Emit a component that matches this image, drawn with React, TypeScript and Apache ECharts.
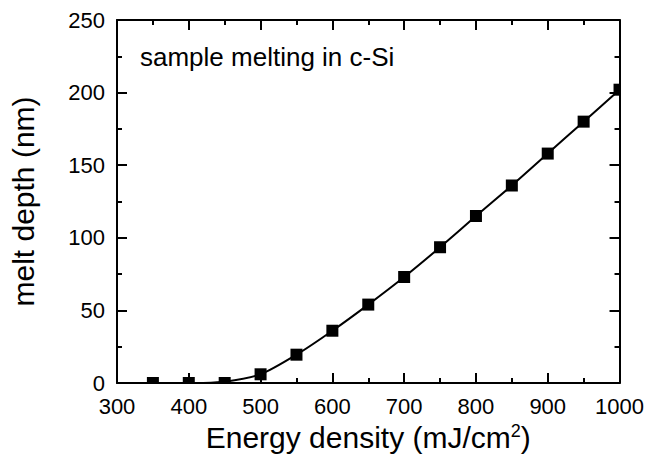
import React, { useEffect, useRef } from "react";
import * as echarts from "echarts";

const energy = [350, 400, 450, 500, 550, 600, 650, 700, 750, 800, 850, 900, 950, 1000];
const meltDepth = [0, 0, 0, 6, 19.5, 36, 54, 73, 93.5, 115, 136, 158, 180, 202];
const fitEnergy = [420, 450, 500, 550, 600, 650, 700, 750, 800, 850, 900, 950, 1000];
const fitDepth = [0, 0.8, 6, 19.5, 36, 54, 73, 93.5, 115, 136, 158, 180, 202];
const xRange = [300, 1000];
const xStep = 100;
const yRange = [0, 250];
const yStep = 50;
const annotation = "sample melting in c-Si";
const xTitle = "Energy density (mJ/cm{sup|2})";
const yTitle = "melt depth (nm)";

const FONT = "'Liberation Sans', Arial, Helvetica, sans-serif";
const MARK = 12;

export default function App() {
  const ref = useRef<HTMLDivElement>(null);
  useEffect(() => {
    if (!ref.current) return;
    const chart = echarts.init(ref.current, null, { renderer: "svg" });
    const lineStyle = { color: "#000", width: 2 };
    const baseAxis = (min: number, max: number, step: number) => ({
      type: "value" as const,
      min,
      max,
      interval: step,
      splitLine: { show: false },
      axisLine: { show: true, onZero: false, lineStyle },
      axisTick: { show: true, inside: true, length: 10, lineStyle },
      minorTick: { show: true, splitNumber: 2, length: 5, lineStyle },
      minorSplitLine: { show: false },
    });
    const labelStyle = {
      color: "#000",
      fontSize: 22,
      fontFamily: FONT,
      margin: 12,
      formatter: (v: number) => String(v),
    };
    chart.setOption({
      animation: false,
      backgroundColor: "#fff",
      grid: { left: 115, right: 27, top: 20, bottom: 80, containLabel: false },
      xAxis: [
        {
          ...baseAxis(xRange[0], xRange[1], xStep),
          position: "bottom",
          axisLabel: labelStyle,
          name: xTitle,
          nameLocation: "middle",
          nameGap: 39,
          nameTextStyle: {
            color: "#000",
            fontSize: 30,
            fontFamily: FONT,
            rich: { sup: { fontSize: 18, fontFamily: FONT, color: "#000", verticalAlign: "top" } },
          },
        },
        {
          ...baseAxis(xRange[0], xRange[1], xStep),
          position: "top",
          axisLabel: { show: false },
        },
      ],
      yAxis: [
        {
          ...baseAxis(yRange[0], yRange[1], yStep),
          position: "left",
          axisLabel: labelStyle,
          name: yTitle,
          nameLocation: "middle",
          nameGap: 79,
          nameTextStyle: { color: "#000", fontSize: 30, fontFamily: FONT },
        },
        {
          ...baseAxis(yRange[0], yRange[1], yStep),
          position: "right",
          axisLabel: { show: false },
        },
      ],
      graphic: [
        {
          type: "text",
          left: 140,
          top: 44,
          style: { text: annotation, fontSize: 26, fontFamily: FONT, fill: "#000" },
        },
      ],
      series: [
        {
          type: "line",
          data: fitEnergy.map((x, i) => [x, fitDepth[i]]),
          smooth: 0.2,
          showSymbol: false,
          symbol: "none",
          lineStyle: { color: "#000", width: 2 },
          clip: true,
          z: 2,
        },
        {
          type: "custom",
          data: energy.map((x, i) => [x, meltDepth[i]]),
          clip: true,
          z: 3,
          renderItem: (_params: any, api: any) => {
            const p = api.coord([api.value(0), api.value(1)]);
            return {
              type: "rect",
              shape: { x: p[0] - MARK / 2, y: p[1] - MARK / 2, width: MARK, height: MARK },
              style: { fill: "#000" },
            };
          },
        },
      ],
    });
    return () => chart.dispose();
  }, []);
  return (
    <div
      ref={ref}
      style={{ position: "absolute", left: 0, top: 0, width: 647, height: 463 }}
    />
  );
}
